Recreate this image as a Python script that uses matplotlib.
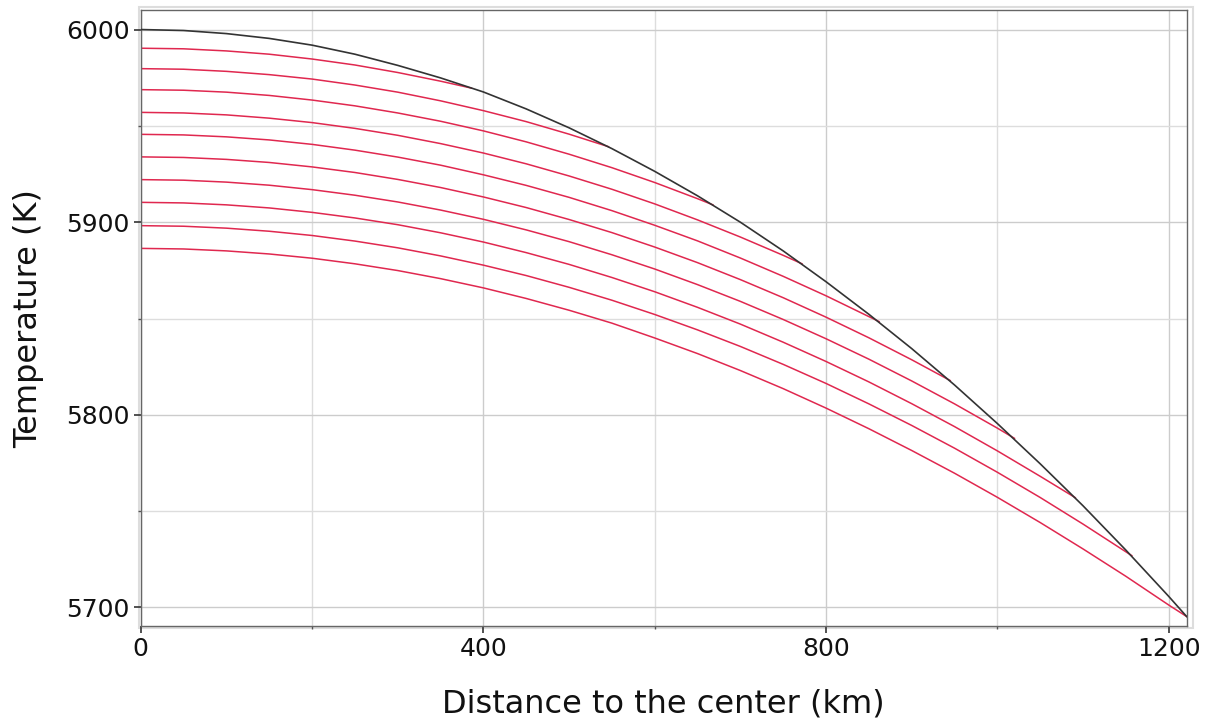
# Inner core temperature profiles: adiabat (black) and growth-stage profiles (red)
import matplotlib
matplotlib.use('Agg')
import matplotlib.pyplot as plt
from matplotlib.patches import Rectangle
from matplotlib.ticker import MultipleLocator

r_step = [0, 50, 100, 150, 200, 250, 300, 350, 400, 450, 500, 550, 600, 650, 700,
          750, 800, 850, 900, 950, 1000, 1050, 1100, 1150, 1200]

# Black curve: temperature vs radius
T_black = [6000.0, 5999.5, 5997.9, 5995.4, 5991.9, 5987.2, 5981.4, 5974.9, 5967.6,
           5958.8, 5949.0, 5938.2, 5926.4, 5913.7, 5900.0, 5885.1, 5869.1, 5852.2,
           5834.4, 5815.5, 5795.5, 5774.6, 5752.8, 5729.8, 5705.8]
r_black_end = 1221
T_black_end = 5695.3

# Red curves: end point of each sits on the black curve
r_end = [386, 546, 668, 772, 862, 945, 1020, 1091, 1157, 1221]
T_end = [5969.6, 5939.2, 5909.0, 5878.4, 5848.4, 5817.8, 5787.8, 5757.0, 5726.9, 5695.3]

red_1 = [5990.3, 5990.0, 5988.9, 5987.2, 5984.7, 5981.6, 5977.7, 5973.2]
red_2 = [5979.7, 5979.4, 5978.3, 5976.6, 5974.3, 5971.2, 5967.5, 5963.0, 5957.9,
         5952.2, 5945.7]
red_3 = [5968.8, 5968.5, 5967.5, 5965.8, 5963.4, 5960.4, 5956.7, 5952.4, 5947.4,
         5941.7, 5935.3, 5928.3, 5920.6, 5912.2]
red_4 = [5957.0, 5956.7, 5955.7, 5954.0, 5951.7, 5948.7, 5945.1, 5940.8, 5935.9,
         5930.3, 5924.0, 5917.1, 5909.5, 5901.2, 5892.3, 5882.8]
red_5 = [5945.6, 5945.3, 5944.3, 5942.7, 5940.4, 5937.4, 5933.8, 5929.6, 5924.6,
         5919.1, 5912.9, 5906.0, 5898.4, 5890.3, 5881.4, 5871.9, 5861.8, 5851.0]
red_6 = [5933.9, 5933.6, 5932.6, 5931.0, 5928.7, 5925.8, 5922.2, 5918.0, 5913.1,
         5907.6, 5901.4, 5894.6, 5887.1, 5879.0, 5870.2, 5860.8, 5850.7, 5840.0,
         5828.6]
red_7 = [5922.1, 5921.8, 5920.8, 5919.2, 5916.9, 5914.0, 5910.5, 5906.3, 5901.5,
         5896.0, 5889.9, 5883.1, 5875.7, 5867.6, 5858.9, 5849.5, 5839.5, 5828.9,
         5817.6, 5805.7, 5793.1]
red_8 = [5910.3, 5910.0, 5909.0, 5907.4, 5905.1, 5902.2, 5898.7, 5894.5, 5889.7,
         5884.2, 5878.1, 5871.3, 5863.9, 5855.8, 5847.1, 5837.7, 5827.7, 5817.1,
         5805.8, 5793.9, 5781.3, 5768.1]
red_9 = [5898.2, 5897.9, 5896.9, 5895.3, 5893.1, 5890.2, 5886.7, 5882.5, 5877.7,
         5872.3, 5866.2, 5859.5, 5852.1, 5844.1, 5835.5, 5826.2, 5816.3, 5805.7,
         5794.5, 5782.7, 5770.2, 5757.1, 5743.3]
red_10 = [5886.4, 5886.1, 5885.1, 5883.5, 5881.3, 5878.4, 5874.9, 5870.7, 5865.9,
          5860.4, 5854.3, 5847.6, 5839.9, 5831.8, 5823.0, 5813.6, 5803.5, 5792.8,
          5781.5, 5769.7, 5757.2, 5744.1, 5730.4, 5716.2, 5701.3]
red_curves = [red_1, red_2, red_3, red_4, red_5, red_6, red_7, red_8, red_9, red_10]

fig = plt.figure(figsize=(12.1, 7.22), dpi=100)
ax = fig.add_axes([0.1163, 0.133, 0.8644, 0.8525])

for vals, re, te in zip(red_curves, r_end, T_end):
    xs = r_step[:len(vals)] + [re]
    ys = vals + [te]
    ax.plot(xs, ys, color='#e0284f', lw=1.1, zorder=2)

ax.plot(r_step + [r_black_end], T_black + [T_black_end], color='#333333', lw=1.2, zorder=3)

ax.set_xlim(0, 1221)
ax.set_ylim(5690.4, 6009.9)
ax.xaxis.set_major_locator(MultipleLocator(400))
ax.xaxis.set_minor_locator(MultipleLocator(200))
ax.yaxis.set_major_locator(MultipleLocator(100))
ax.yaxis.set_minor_locator(MultipleLocator(50))

ax.grid(True, which='major', color='#cccccc', lw=1.0, zorder=0)
ax.grid(True, which='minor', color='#dddddd', lw=1.0, zorder=0)
ax.set_axisbelow(True)

ax.tick_params(which='major', direction='out', length=5, width=1.2, color='#333333',
               labelsize=18, labelcolor='#111111', pad=3)
ax.tick_params(which='minor', direction='out', length=2.5, width=1.0, color='#555555')

for s in ax.spines.values():
    s.set_color('#666666')
    s.set_linewidth(1.0)

ax.set_xlabel('Distance to the center (km)', fontsize=23, labelpad=20, color='#111111')
ax.set_ylabel('Temperature (K)', fontsize=23, labelpad=16, color='#111111')

# light outer frame around the plot area
frame = Rectangle((139 / 1210, 1 - 628 / 722), (1193 - 139) / 1210, (628 - 7) / 722,
                  transform=fig.transFigure, fill=False, edgecolor='#dddddd', lw=1.5,
                  zorder=-1)
fig.patches.append(frame)

fig.savefig('out.png', dpi=100)
